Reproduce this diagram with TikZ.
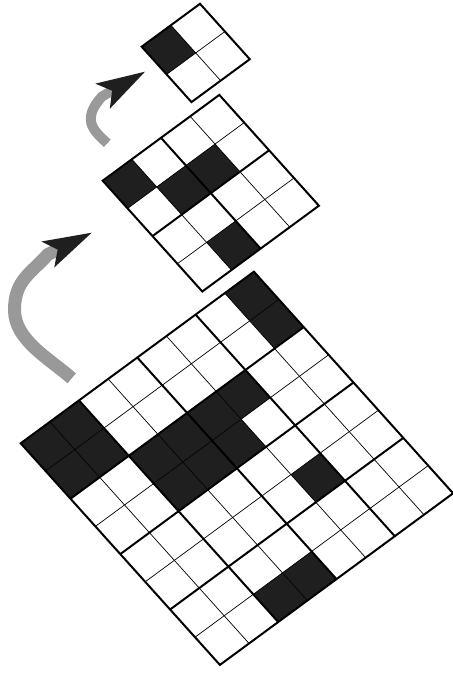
\documentclass[tikz,border=0pt]{standalone}
\usetikzlibrary{arrows.meta}
\begin{document}
\begin{tikzpicture}[x=1pt,y=-1pt,
  gridline/.style={line width=0.7pt},
  blockline/.style={line width=2pt},
  cellfill/.style={fill=black!88},
  turnarrow/.style={draw=black!40,line join=round,
    -{Stealth[length=49pt,width=29pt,inset=11pt,line width=0pt,color=black!88,fill=black!88]}}]
  \useasboundingbox (0,0) rectangle (453,673);
  % big grid 8 x 8
  \begin{scope}[shift={(20.7,443.3)},x={(29.15pt,21.45pt)},y={(24.9pt,-27.7pt)}]
    \foreach \i/\j in {0/0,1/0,0/1,1/1,7/0,7/1,2/2,3/2,4/2,5/2,2/3,3/3,4/3,5/5,2/7,3/7}
      \fill[cellfill] (\i,\j) -- ++(1,0) -- ++(0,1) -- ++(-1,0) -- cycle;
    \foreach \k in {1,3,5,7} {
      \draw[gridline] (\k,0) -- (\k,8);
      \draw[gridline] (0,\k) -- (8,\k);
    }
    \foreach \k in {2,4,6} {
      \draw[blockline] (\k,0) -- (\k,8);
      \draw[blockline] (0,\k) -- (8,\k);
    }
    \draw[blockline] (0,0) -- (8,0) -- (8,8) -- (0,8) -- cycle;
  \end{scope}
  % middle grid 4 x 4
  \begin{scope}[shift={(102.7,180.7)},x={(29.15pt,21.45pt)},y={(24.9pt,-27.7pt)}]
    \foreach \i/\j in {0/0,1/1,2/1,1/3}
      \fill[cellfill] (\i,\j) -- ++(1,0) -- ++(0,1) -- ++(-1,0) -- cycle;
    \foreach \k in {1,3} {
      \draw[gridline] (\k,0) -- (\k,4);
      \draw[gridline] (0,\k) -- (4,\k);
    }
    \draw[blockline] (2,0) -- (2,4);
    \draw[blockline] (0,2) -- (4,2);
    \draw[blockline] (0,0) -- (4,0) -- (4,4) -- (0,4) -- cycle;
  \end{scope}
  % small grid 2 x 2
  \begin{scope}[shift={(141.7,46.7)},x={(29.15pt,21.45pt)},y={(24.9pt,-27.7pt)}]
    \fill[cellfill] (0,0) -- ++(1,0) -- ++(0,1) -- ++(-1,0) -- cycle;
    \draw[gridline] (1,0) -- (1,2);
    \draw[gridline] (0,1) -- (2,1);
    \draw[blockline] (0,0) -- (2,0) -- (2,2) -- (0,2) -- cycle;
  \end{scope}
  % arrows
  \coordinate (tailA) at (71.7,378.3);
  \coordinate (leftA) at (14.5,310);
  \coordinate (baseA) at (47.8,254.5);
  \coordinate (tipA) at (91.7,232.7);
  \coordinate (tailB) at (107.3,143.3);
  \coordinate (leftB) at (90.8,119);
  \coordinate (baseB) at (101.7,96.7);
  \coordinate (tipB) at (145,71.7);
  \draw[turnarrow,line width=13pt] (tailA) .. controls +(-22.5,-19.8) and +(0,30) .. (leftA)
    .. controls +(0,-30) and +(-16.5,18.75) .. (baseA) -- (tipA);
  \draw[turnarrow,line width=10pt] (tailB) .. controls +(-7.3,-6.9) and +(0,10) .. (leftB)
    .. controls +(0,-9) and +(-5,6.2) .. (baseB) -- (tipB);
\end{tikzpicture}
\end{document}
